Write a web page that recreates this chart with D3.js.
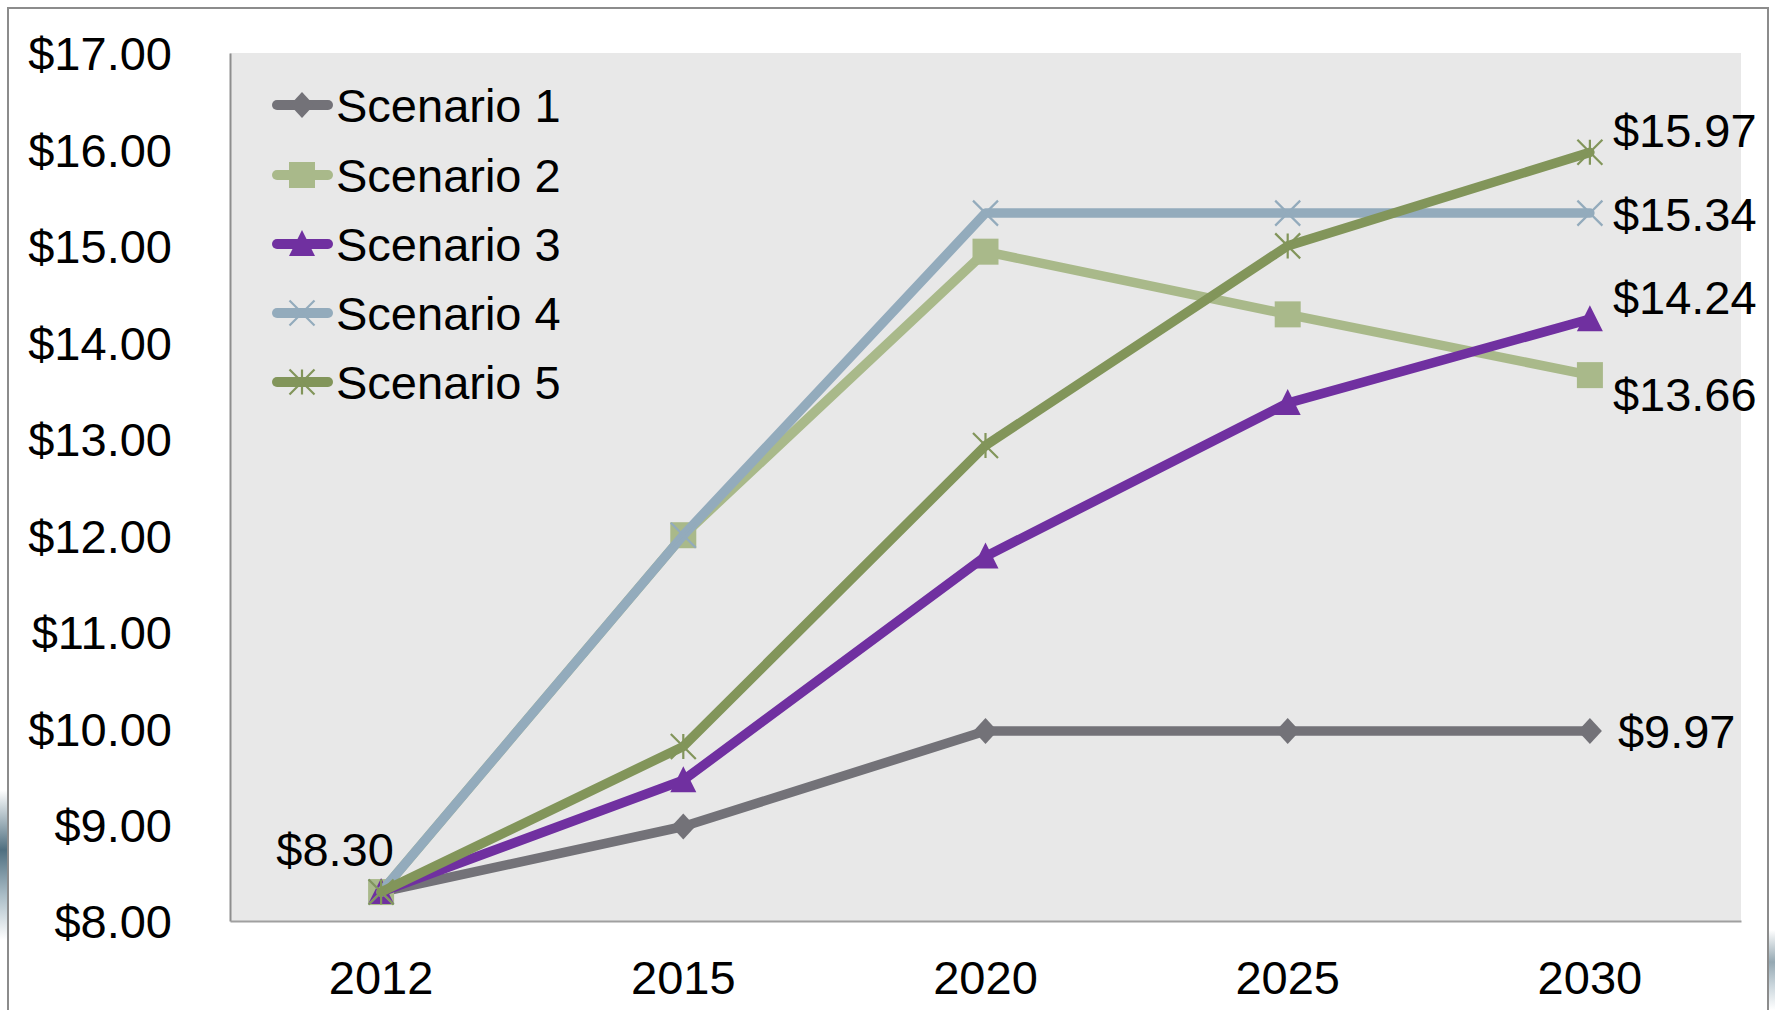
<!DOCTYPE html>
<html><head><meta charset="utf-8">
<script src="https://cdn.jsdelivr.net/npm/d3@7"></script>
<style>html,body{margin:0;padding:0;background:#fff;overflow:hidden}svg{display:block}</style>
</head><body><svg id="c" width="1775" height="1010"></svg>
<script>
const years = ["2012", "2015", "2020", "2025", "2030"];
const seriesNames = ["Scenario 1", "Scenario 2", "Scenario 3", "Scenario 4", "Scenario 5"];
const scenario1 = [8.30, 8.98, 9.97, 9.97, 9.97];
const scenario2 = [8.30, 12.00, 14.94, 14.29, 13.66];
const scenario3 = [8.30, 9.46, 11.78, 13.37, 14.24];
const scenario4 = [8.30, 12.00, 15.34, 15.34, 15.34];
const scenario5 = [8.30, 9.81, 12.93, 15.00, 15.97];
const yTicks = [8, 9, 10, 11, 12, 13, 14, 15, 16, 17];

const colors = ["#737278", "#a9b98a", "#7030a0", "#93abbc", "#82955a"];
const markers = ["diamond", "square", "triangle", "x", "star"];
const allSeries = [scenario1, scenario2, scenario3, scenario4, scenario5];

const svg = d3.select("#c");
const W = 1775, H = 1010;
const plot = {left: 230, right: 1741, top: 53, bottom: 921};
const font = "'Liberation Sans', Arial, sans-serif";
const fs = 47;
const money = v => "$" + d3.format(".2f")(v);

// background decoration at edges
const defs = svg.append("defs");
const g1 = defs.append("linearGradient").attr("id","edge").attr("x1",0).attr("y1",0).attr("x2",0).attr("y2",1);
g1.append("stop").attr("offset","0").attr("stop-color","#ffffff");
g1.append("stop").attr("offset","0.4").attr("stop-color","#4f6f80");
g1.append("stop").attr("offset","0.7").attr("stop-color","#a9bcc6");
g1.append("stop").attr("offset","1").attr("stop-color","#ffffff");
svg.append("rect").attr("x",0).attr("y",790).attr("width",8).attr("height",150).attr("fill","url(#edge)");
svg.append("rect").attr("x",1769).attr("y",930).attr("width",6).attr("height",80).attr("fill","url(#edge)").attr("opacity",0.6);

// outer frame
svg.append("rect").attr("x",8).attr("y",8).attr("width",1760).attr("height",1100)
  .attr("fill","#fff").attr("stroke","#8c8c8c").attr("stroke-width",2);

const x = d3.scaleBand().domain(years).range([plot.left, plot.right]);
const y = d3.scaleLinear().domain([8, 17]).range([plot.bottom, plot.top]);
const cx = d => x(d) + x.bandwidth() / 2;

// plot area
svg.append("rect").attr("x",plot.left).attr("y",plot.top)
  .attr("width",plot.right-plot.left).attr("height",plot.bottom-plot.top).attr("fill","#e8e8e8");

// axes
const yAxis = svg.append("g").attr("transform",`translate(${plot.left},0)`)
  .call(d3.axisLeft(y).tickValues(yTicks).tickFormat(money).tickSize(0).tickPadding(58));
yAxis.select(".domain").attr("stroke","#8e8e8e").attr("stroke-width",2);
yAxis.selectAll("text").attr("font-family",font).attr("font-size",fs).attr("fill","#000")
  .attr("dy","0.36em");

const xAxis = svg.append("g").attr("transform",`translate(0,${plot.bottom})`)
  .call(d3.axisBottom(x).tickSize(0).tickPadding(0));
xAxis.select(".domain").attr("stroke","#a0a0a0").attr("stroke-width",2);
xAxis.selectAll("text").attr("font-family",font).attr("font-size",fs).attr("fill","#000")
  .attr("y",56).attr("dy","0.36em");

function drawMarker(g, type, px, py, color, s) {
  const h = s / 2;
  if (type === "diamond") {
    g.append("path").attr("d",`M${px},${py-13}L${px+12},${py}L${px},${py+13}L${px-12},${py}Z`).attr("fill",color);
  } else if (type === "square") {
    g.append("rect").attr("x",px-13).attr("y",py-13).attr("width",26).attr("height",26).attr("fill",color);
  } else if (type === "triangle") {
    g.append("path").attr("d",`M${px},${py-14}L${px+13},${py+12}L${px-13},${py+12}Z`).attr("fill",color);
  } else if (type === "x" || type === "star") {
    const d = 12.5;
    g.append("path").attr("d",`M${px-d},${py-d}L${px+d},${py+d}M${px+d},${py-d}L${px-d},${py+d}` + (type==="star" ? `M${px},${py-d}L${px},${py+d}` : ""))
      .attr("stroke",color).attr("stroke-width",2.2).attr("fill","none");
  }
}

const line = d3.line().x((d,i) => cx(years[i])).y(d => y(d));
allSeries.forEach((vals, si) => {
  const g = svg.append("g");
  g.append("path").datum(vals).attr("d", line).attr("fill","none")
    .attr("stroke",colors[si]).attr("stroke-width",9.5)
    .attr("stroke-linejoin","round").attr("stroke-linecap","round");
  vals.forEach((v,i) => drawMarker(g, markers[si], cx(years[i]), y(v), colors[si]));
});

// data labels
const lbl = svg.append("g").attr("font-family",font).attr("font-size",fs).attr("fill","#000");
lbl.append("text").attr("x", cx(years[0]) - 46).attr("y", y(scenario1[0]) - 43)
  .attr("dy","0.36em").attr("text-anchor","middle").text(money(scenario1[0]));
const endOffsets = [0, 19, -22, 1, -22];
allSeries.forEach((vals, si) => {
  const v = vals[vals.length-1];
  lbl.append("text").attr("x", cx(years[4]) + (si === 0 ? 28 : 23)).attr("y", y(v) + endOffsets[si])
    .attr("dy","0.36em").text(money(v));
});

// legend
const leg = svg.append("g");
const legRows = [105, 175, 244, 313, 382];
seriesNames.forEach((name, si) => {
  const ly = legRows[si];
  leg.append("line").attr("x1",277).attr("x2",328).attr("y1",ly).attr("y2",ly)
    .attr("stroke",colors[si]).attr("stroke-width",10).attr("stroke-linecap","round");
  drawMarker(leg, markers[si], 302, ly, colors[si]);
  leg.append("text").attr("x",336).attr("y",ly).attr("dy","0.36em")
    .attr("font-family",font).attr("font-size",fs).attr("fill","#000").text(name);
});
</script></body></html>
